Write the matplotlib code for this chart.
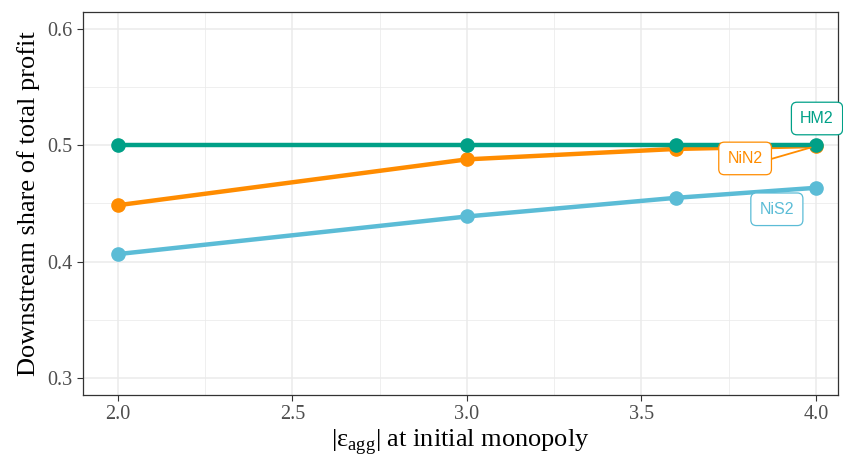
import numpy as np
import matplotlib.pyplot as plt
from matplotlib.ticker import MultipleLocator

plt.rcParams['font.family'] = ['Liberation Serif', 'DejaVu Serif']
plt.rcParams['mathtext.fontset'] = 'custom'
plt.rcParams['mathtext.rm'] = 'Liberation Serif'

# data
eps = [2.0, 3.0, 3.6, 4.0]
hm2 = [0.500, 0.500, 0.500, 0.500]
nin2 = [0.4485, 0.488, 0.497, 0.4995]
nis2 = [0.4064, 0.4388, 0.4549, 0.4635]

series = ['HM2', 'NiN2', 'NiS2']
colors = {'HM2': '#00A087', 'NiN2': '#FF8C00', 'NiS2': '#5BBCD6'}
values = {'HM2': hm2, 'NiN2': nin2, 'NiS2': nis2}

fig = plt.figure(figsize=(8.43, 4.59), dpi=100)
ax = fig.add_axes([0.0985, 0.1394, 0.8955, 0.8346])

for s in ['NiS2', 'NiN2', 'HM2']:
    ax.plot(eps, values[s], color=colors[s], lw=3.2, marker='o', ms=9.5,
            solid_capstyle='butt', zorder=3)

ax.set_xlim(1.9, 4.063)
ax.set_ylim(0.285, 0.615)
ax.xaxis.set_major_locator(MultipleLocator(0.5))
ax.xaxis.set_minor_locator(MultipleLocator(0.25))
ax.yaxis.set_major_locator(MultipleLocator(0.1))
ax.yaxis.set_minor_locator(MultipleLocator(0.05))
ax.xaxis.set_major_formatter(plt.FormatStrFormatter('%.1f'))
ax.yaxis.set_major_formatter(plt.FormatStrFormatter('%.1f'))

ax.grid(which='major', color='#EBEBEB', lw=1.1)
ax.grid(which='minor', color='#EBEBEB', lw=0.55)
ax.set_axisbelow(True)
for sp in ax.spines.values():
    sp.set_color('#333333')
    sp.set_linewidth(0.9)
ax.tick_params(which='major', length=4, color='#333333', labelsize=14.5,
               labelcolor='#4D4D4D')
ax.tick_params(which='minor', length=0)

ax.set_xlabel('|ε$_{\\mathrm{agg}}$| at initial monopoly', fontsize=19,
              labelpad=2)
ax.set_ylabel('Downstream share of total profit', fontsize=19, labelpad=5)

# labels at the last point
lab_pos = {'HM2': (4.003, 0.5232), 'NiN2': (3.797, 0.4888), 'NiS2': (3.888, 0.445)}
for s in series:
    ax.annotate(s, xy=(eps[-1], values[s][-1]), xytext=lab_pos[s],
                fontsize=11.5, family=['Liberation Sans', 'DejaVu Sans'],
                color=colors[s], ha='center', va='center', zorder=5,
                bbox=dict(boxstyle='round,pad=0.55,rounding_size=0.35',
                          fc='white', ec=colors[s], lw=0.9),
                arrowprops=dict(arrowstyle='-', color=colors[s], lw=1.3,
                                relpos=(1.0, 0.3), shrinkA=0, shrinkB=4)
                if s == 'NiN2' else None)

fig.savefig('out.png', dpi=100)
